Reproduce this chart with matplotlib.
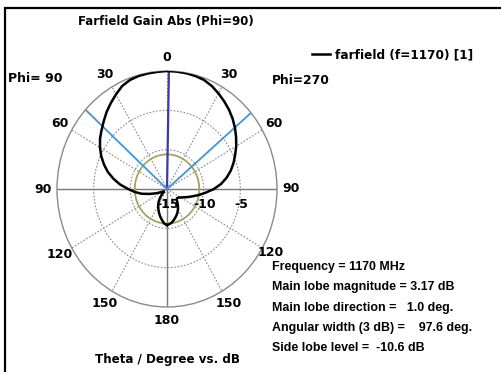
import matplotlib
matplotlib.use("Agg")
import matplotlib.pyplot as plt
import matplotlib.patches as mpatches
import matplotlib.transforms as mtransforms
import numpy as np

# pattern: angle clockwise from top (deg), gain relative to max (dB)
theta_deg = [-180, -175, -170, -165, -160, -155, -150, -145, -140, -135, -130,
             -125, -120, -115, -110, -105, -100, -95, -90, -85, -80, -75, -70,
             -65, -60, -55, -50, -45, -40, -35, -30, -25, -20, -15, -10, -5,
             0, 5, 10, 15, 20, 25, 30, 35, 40, 45, 50, 55, 60, 65, 70, 75, 80,
             85, 90, 95, 100, 105, 110, 115, 120, 125, 130, 135, 140, 145, 150,
             155, 160, 165, 170, 175, 180]
gain_db = [-10.42, -10.6, -11.0, -11.4, -11.8, -12.2, -12.6, -13.0, -13.5,
           -14.0, -14.4, -14.5, -14.3, -14.0, -13.4, -12.6, -11.5, -10.6,
           -9.7, -8.6, -7.6, -6.65, -5.85, -5.1, -4.45, -3.85, -3.35, -2.8,
           -2.2, -1.65, -1.1, -0.55, -0.25, -0.12, -0.08, -0.05,
           0.0, -0.02, -0.05, -0.12, -0.25, -0.55, -0.97, -1.4, -1.85, -2.35,
           -2.9, -3.5, -4.1, -4.75, -5.35, -6.0, -6.75, -7.6, -8.6, -9.7,
           -10.6, -11.4, -12.0, -12.5, -12.85, -13.1, -13.2, -13.15, -12.8,
           -12.4, -12.0, -11.65, -11.35, -11.05, -10.75, -10.55, -10.42]

theta_ticks = [0, 30, 60, 90, 120, 150, 180, 210, 240, 270, 300, 330]
theta_labels = ["0", "30", "60", "90", "", "150", "180",
                "150", "120", "90", "60", "30"]
r_ticks = [-15, -10, -5]
r_labels = ["-15", "-10", "-5"]

main_lobe_dir = 1.0
angular_width = 97.6
side_lobe_level = -10.6

info_lines = [
    "Frequency = 1170 MHz",
    "Main lobe magnitude = 3.17 dB",
    "Main lobe direction =   1.0 deg.",
    "Angular width (3 dB) =    97.6 deg.",
    "Side lobe level =  -10.6 dB",
]

plt.rcParams["font.family"] = ["DejaVu Sans"]
plt.rcParams["font.weight"] = "bold"

W, H = 502, 372
fig = plt.figure(figsize=(W / 100, H / 100), dpi=100)
ax = fig.add_axes([57 / W, (H - 307) / H, 220 / W, 236 / H], projection="polar")
ax.set_aspect("auto")
ax.set_theta_zero_location("N")
ax.set_theta_direction(-1)
ax.set_rlim(-15, 0)

ax.set_xticks(np.deg2rad(theta_ticks))
ax.set_xticklabels(theta_labels, fontsize=9, fontweight="bold")
ax.tick_params(axis="x", pad=-0.5)
ax.set_yticks(r_ticks)
ax.set_yticklabels([])
ax.grid(True, color="#8c8c8c", linestyle=(0, (1.5, 1.5)), linewidth=0.8)
ax.spines["polar"].set_color("#8a8a8a")
ax.spines["polar"].set_linewidth(1.0)

# solid axis lines through the centre
for a in (90, 180, 270):
    ax.axvline(np.deg2rad(a), color="#7a7a7a", lw=1.0, zorder=2)

# side lobe level circle
circ = np.linspace(0, 2 * np.pi, 361)
ax.plot(circ, np.full_like(circ, side_lobe_level), color="#a4a45e", lw=1.3, zorder=3)

# main lobe direction and 3 dB beam edges
ax.axvline(np.deg2rad(main_lobe_dir), color="#3a3aa8", lw=1.6, zorder=4)
for edge in (main_lobe_dir - angular_width / 2, main_lobe_dir + angular_width / 2):
    ax.axvline(np.deg2rad(edge), color="#3e95dc", lw=1.3, zorder=4)

line, = ax.plot(np.deg2rad(theta_deg), gain_db, color="black", lw=1.8, zorder=5,
                label="farfield (f=1170) [1]")

off = mtransforms.offset_copy(ax.transData, fig=fig, x=1, y=-15, units="dots")
for r, lab in zip(r_ticks, r_labels):
    ax.text(np.deg2rad(90), r, lab, transform=off, ha="center", va="center",
            fontsize=9, fontweight="bold", zorder=6)

# right-hand 120 label sits tucked above the info block
fig.text(271 / W, 1 - 253 / H, "120", ha="center", va="center", fontsize=9,
         fontweight="bold")

fig.text(165.5 / W, 1 - 22 / H, "Farfield Gain Abs (Phi=90)", ha="center",
         va="center", fontsize=8.5, fontweight="bold")
fig.text(8 / W, 1 - 79 / H, "Phi= 90", ha="left", va="center", fontsize=9,
         fontweight="bold")
fig.text(272 / W, 1 - 80 / H, "Phi=270", ha="left", va="center", fontsize=8.8,
         fontweight="bold")
fig.text(167.5 / W, 1 - 359 / H, "Theta / Degree vs. dB", ha="center",
         va="center", fontsize=8.6, fontweight="bold")

for i, txt in enumerate(info_lines):
    fig.text(272 / W, 1 - (267 + 20.3 * i) / H, txt, ha="left", va="center",
             fontsize=8.9, fontweight="bold", family=["Liberation Sans", "DejaVu Sans"])

fig.legend(handles=[line], loc="center left", bbox_to_anchor=(312 / W, 1 - 55 / H),
           frameon=False, handlelength=1.5, handletextpad=0.4,
           borderpad=0, borderaxespad=0, prop={"weight": "bold", "size": 8.7})

fig.add_artist(mpatches.Rectangle((5 / W, -0.1), 1.2, 1.1 - 8 / H, fill=False,
                                  lw=1.6, edgecolor="black",
                                  transform=fig.transFigure))

fig.savefig("out.png", dpi=100)
